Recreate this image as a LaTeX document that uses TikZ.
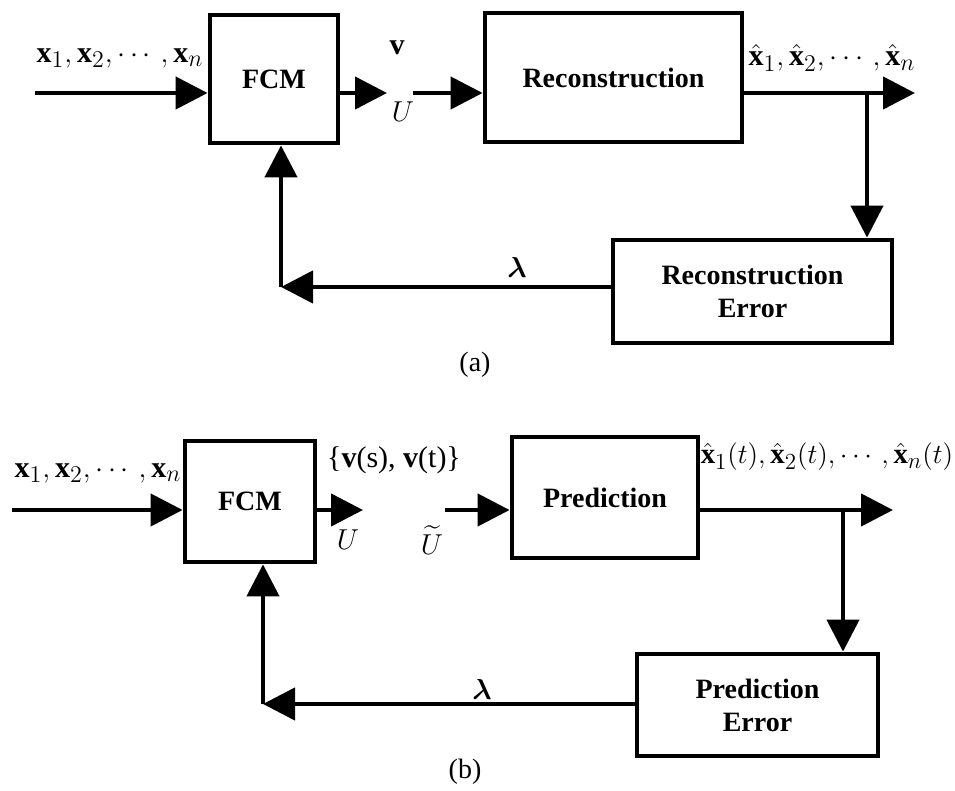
\documentclass[tikz,border=0pt]{standalone}
\usepackage{amsmath}
\usepackage{fontspec}
\setmainfont{Liberation Serif}
\usetikzlibrary{arrows.meta}
\DeclareMathSizes{15}{15}{11.5}{9}

\begin{document}
\begin{tikzpicture}[x=0.5pt,y=-0.5pt,
  blockbox/.style={draw,line width=2.4pt,font=\fontsize{14}{16.5}\selectfont\bfseries,align=center,inner sep=0pt},
  arr/.style={line width=2.2pt,-{Triangle[length=16pt,width=16pt]}},
  lbl/.style={font=\fontsize{15}{17}\selectfont,inner sep=0pt},
  captext/.style={font=\fontsize{14}{16}\selectfont,inner sep=0pt}]
\useasboundingbox (0,0) rectangle (955,791);
% (a) blocks
\node[blockbox,minimum width=64pt,minimum height=64pt] (fcmA) at (274,79) {FCM};
\node[blockbox,minimum width=128.5pt,minimum height=64.5pt] (recA) at (613.5,77.5) {Reconstruction};
\node[blockbox,minimum width=139.5pt,minimum height=51.5pt] (errA) at (752.5,291.5) {Reconstruction\\Error};
% (a) points
\coordinate (inA) at (35,93);
\coordinate (vA) at (387,93);
\coordinate (uA) at (413,93);
\coordinate (outA) at (915,93);
\coordinate (brA) at (867,93);
\coordinate (cornA) at (281,287);
% (a) arrows
\draw[arr] (inA) -- (inA -| fcmA.west);
\draw[arr] (fcmA.east |- inA) -- (vA);
\draw[arr] (uA) -- (uA -| recA.west);
\draw[arr] (recA.east |- inA) -- (outA);
\draw[arr] (brA) -- (brA |- errA.north);
\draw[arr] (errA.west |- cornA) -- (cornA);
\draw[arr] (cornA) -- (cornA |- fcmA.south);
% (a) labels
\node[lbl] (xinA) at (120,58) {$\mathbf{x}_1, \mathbf{x}_2, \cdots, \mathbf{x}_n$};
\node[lbl] (vlA) at (397,48) {$\mathbf{v}$};
\node[lbl] (ulA) at (403,112) {$U$};
\node[lbl] (xoutA) at (832,58) {$\hat{\mathbf{x}}_1, \hat{\mathbf{x}}_2, \cdots, \hat{\mathbf{x}}_n$};
\node[lbl] (lamA) at (517,268) {$\boldsymbol{\lambda}$};
\node[captext] (capA) at (475,365) {(a)};

% (b) blocks
\node[blockbox,minimum width=65pt,minimum height=60.5pt] (fcmB) at (250,501.5) {FCM};
\node[blockbox,minimum width=93pt,minimum height=60.5pt] (preB) at (605,497.5) {Prediction};
\node[blockbox,minimum width=120.5pt,minimum height=51pt] (errB) at (757.5,705) {Prediction\\Error};
% (b) points
\coordinate (inB) at (12,510);
\coordinate (vB) at (363,510);
\coordinate (uB) at (445,510);
\coordinate (outB) at (893,510);
\coordinate (brB) at (843,510);
\coordinate (cornB) at (263,704);
% (b) arrows
\draw[arr] (inB) -- (inB -| fcmB.west);
\draw[arr] (fcmB.east |- inB) -- (vB);
\draw[arr] (uB) -- (uB -| preB.west);
\draw[arr] (preB.east |- inB) -- (outB);
\draw[arr] (brB) -- (brB |- errB.north);
\draw[arr] (errB.west |- cornB) -- (cornB);
\draw[arr] (cornB) -- (cornB |- fcmB.south);
% (b) labels
\node[lbl] (xinB) at (98,473) {$\mathbf{x}_1, \mathbf{x}_2, \cdots, \mathbf{x}_n$};
\node[lbl] (vlB) at (394,460) {\{$\mathbf{v}$(s), $\mathbf{v}$(t)\}};
\node[lbl] (ulB) at (348,540) {$U$};
\node[lbl] (utB) at (432,540) {$\widetilde{U}$};
\node[lbl,scale=0.96] (xoutB) at (827,457) {$\hat{\mathbf{x}}_1(t), \hat{\mathbf{x}}_2(t), \cdots, \hat{\mathbf{x}}_n(t)$};
\node[lbl] (lamB) at (482,690) {$\boldsymbol{\lambda}$};
\node[captext] (capB) at (465,772) {(b)};
\end{tikzpicture}
\end{document}
